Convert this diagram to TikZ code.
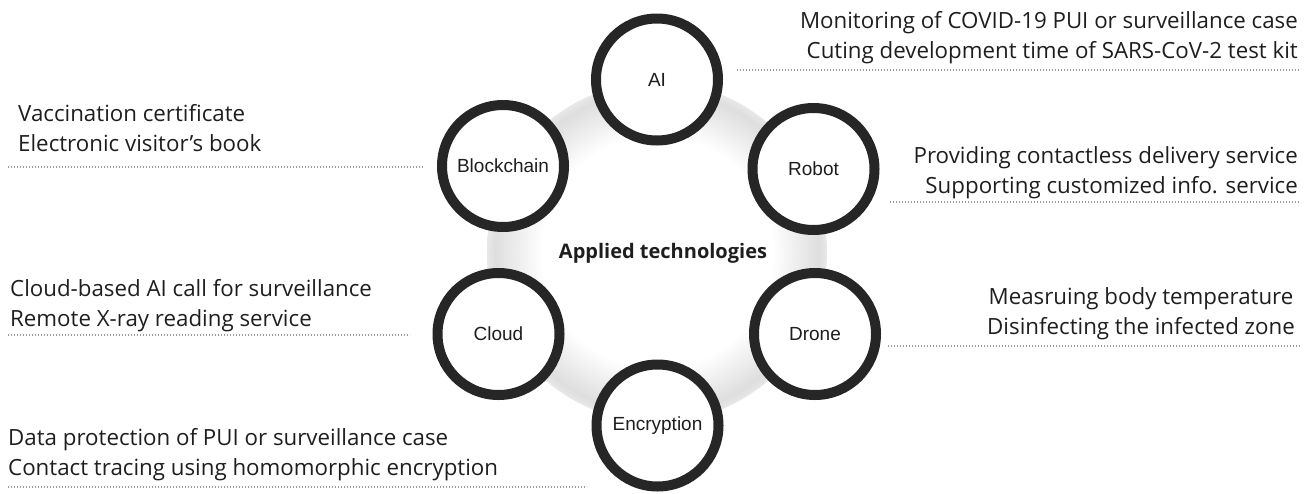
\documentclass[tikz,border=0pt]{standalone}
\usepackage{fontspec}
\setmainfont{Open Sans}
\newfontfamily\labelfont{Liberation Sans}

\definecolor{ringgray}{HTML}{262626}
\definecolor{inkgray}{HTML}{1E1E1E}
\definecolor{dotgray}{HTML}{9A9A9A}

% white middle, light grey rim (25bp is the rim of the shaded circle)
\pgfdeclareradialshading{hubglow}{\pgfpoint{0bp}{0bp}}{color(0bp)=(white); color(17bp)=(white); color(23.8bp)=(black!13); color(25bp)=(black!9); color(50bp)=(black!9)}

\tikzset{
  tech/.style={circle, draw=ringgray, line width=10pt, fill=white, minimum size=122pt, inner sep=0pt,
    font=\labelfont\fontsize{19}{22}\selectfont, text=inkgray},
  uses/.style={inner sep=0pt, font=\fontsize{22.3}{30}\selectfont, text=inkgray},
  rule/.style={dotgray, line width=1.4pt, dash pattern=on 1.2pt off 1.8pt}
}

\begin{document}
\begin{tikzpicture}[x=1pt,y=-1pt]
      \useasboundingbox (0,0) rectangle (1310,493);

      % soft disc behind the ring of technologies
      \shade[shading=hubglow] (657,252) circle (170);
      \node[font=\bfseries\fontsize{20}{24}\selectfont, text=inkgray] (hub) at (663,253) {Applied technologies};

      % the six technologies, clockwise from the top
      \node[tech] (ai) at (657,79.5) {AI};
      \node[tech] (robot) at (813.5,169) {Robot};
      \node[tech] (drone) at (815,334) {Drone};
      \node[tech] (encryption) at (657.5,425.5) {Encryption};
      \node[tech] (cloud) at (498.5,334) {Cloud};
      \node[tech] (blockchain) at (503,166) {Blockchain};

      % use cases, right column
      \node[uses, align=right, anchor=north east] (aiuse) at (1298,11)
        {Monitoring of COVID-19 PUI or surveillance case\\Cuting development time of SARS-CoV-2 test kit};
      \draw[rule] (737,70) -- (1300,70);

      \node[uses, align=right, anchor=north east] (robotuse) at (1298,146)
        {Providing contactless delivery service\\Supporting customized info. service};
      \draw[rule] (890,202) -- (1300,202);

      \node[uses, align=center, anchor=north] (droneuse) at (1141,287)
        {Measruing body temperature\\Disinfecting the infected zone};
      \draw[rule] (888,346) -- (1300,346);

      % use cases, left column
      \node[uses, align=left, anchor=north west] (blockuse) at (18,104)
        {Vaccination certificate\\Electronic visitor’s book};
      \draw[rule] (8,167) -- (423,167);

      \node[uses, align=left, anchor=north west] (clouduse) at (10,279)
        {Cloud-based AI call for surveillance\\Remote X-ray reading service};
      \draw[rule] (8,335) -- (410,335);

      \node[uses, align=left, anchor=north west] (cryptuse) at (8,428)
        {Data protection of PUI or surveillance case\\Contact tracing using homomorphic encryption};
      \draw[rule] (8,487) -- (587,487);
\end{tikzpicture}
\end{document}
